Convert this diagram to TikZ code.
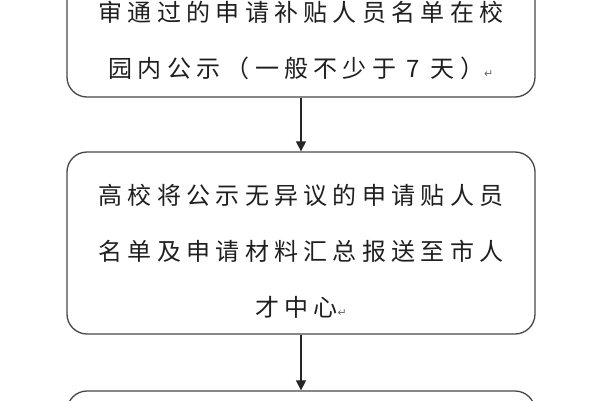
\documentclass[tikz,border=0pt]{standalone}
\usepackage{fontspec}
\usepackage{tikz}
\usetikzlibrary{arrows.meta,positioning}
\newfontfamily\cjk[LetterSpace=22]{Noto Sans CJK SC}
\newfontfamily\symfont{DejaVu Sans}
\newcommand{\retmark}{{\symfont\fontsize{11pt}{11pt}\selectfont\textcolor{black!60}{↵}}}
\tikzset{font={\fontsize{24pt}{56pt}\selectfont\cjk}}

\begin{document}
\begin{tikzpicture}[x=1pt,y=-1pt,
stepbox/.style={draw=black!72,line width=1.3pt,rounded corners=20pt,minimum width=468pt},
steptext/.style={align=center,inner sep=0pt,text=black!88},
flow/.style={draw=black!85,line width=1.2pt,-{Triangle[length=10pt,width=10pt]}}
]
\useasboundingbox (0,0) rectangle (600,400);
\clip (0,0) rectangle (600,400);

%boxes
\node[stepbox,minimum height=128pt] (b1) at (301,33) {};
\node[steptext] (t1) at (301,40) {审通过的申请补贴人员名单在校\\园内公示（一般不少于 7 天）\retmark};

\node[stepbox,minimum height=182pt] (b2) at (301,243) {};
\node[steptext] (t2) at (301,251) {高校将公示无异议的申请贴人员\\名单及申请材料汇总报送至市人\\才中心\retmark};

\node[stepbox,minimum height=150pt] (b3) at (301,466) {};

%arrows
\draw[flow] (b1) -- (b2);
\draw[flow] (b2) -- (b3);

\end{tikzpicture}
\end{document}
